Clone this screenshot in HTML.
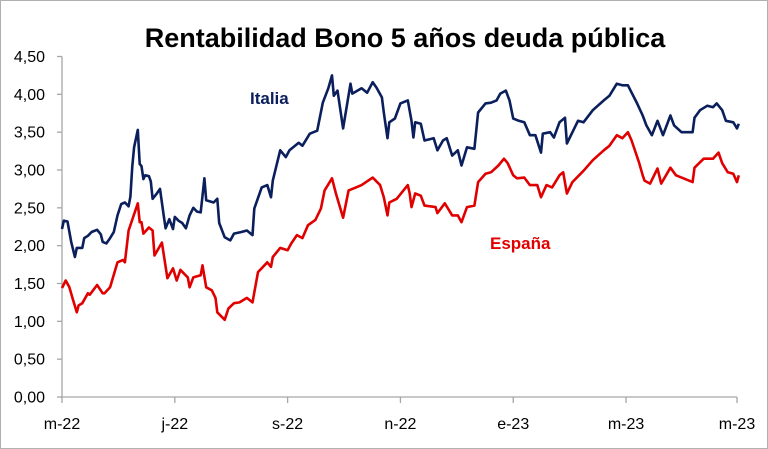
<!DOCTYPE html>
<html><head><meta charset="utf-8"><style>
body{margin:0;background:#fff}
svg{display:block;font-family:"Liberation Sans",sans-serif}
</style></head><body>
<svg width="768" height="449" viewBox="0 0 768 449">
<rect x="0.5" y="0.5" width="767" height="448" fill="#fff" stroke="#b0b0b0"/>
<text x="405" y="47" text-anchor="middle" font-size="27" font-weight="bold" fill="#000">Rentabilidad Bono 5 años deuda pública</text>
<g id="axes"></g>
<g id="series"></g>
<text x="250" y="104" font-size="17" font-weight="bold" fill="#0a1f5c">Italia</text>
<text x="490" y="249" font-size="17" font-weight="bold" fill="#e00000">España</text>
</svg>
<script>
const yTicks=[0,0.5,1,1.5,2,2.5,3,3.5,4,4.5];
const yTickLabels=["0,00","0,50","1,00","1,50","2,00","2,50","3,00","3,50","4,00","4,50"];
const xTickDays=[0,61,122,183,244,305,365];
const xTickLabels=["m-22","j-22","s-22","n-22","e-23","m-23","m-23"];
const italiaDays=[0,1,3,5,7,8,11,12,14,16,19,21,22,24,26,28,30,32,34,36,37,38,39,41,42,43,44,45,47,48,49,51,53,55,56,58,60,61,63,65,67,69,71,73,75,77,78,82,84,85,88,91,93,97,100,103,104,108,111,113,114,118,121,123,128,130,134,138,141,144,146,147,149,152,156,157,162,165,168,170,173,174,176,177,180,183,187,189,190,191,194,196,201,203,206,208,211,214,216,219,223,225,229,232,235,237,240,242,244,247,250,253,256,259,260,264,266,269,272,273,279,282,287,293,296,300,303,306,311,314,316,319,322,325,329,331,335,341,342,345,349,352,354,357,359,363,365,366];
const italiaValues=[2.22,2.33,2.32,2.05,1.85,1.97,1.97,2.10,2.13,2.18,2.21,2.15,2.05,2.03,2.10,2.18,2.40,2.55,2.57,2.52,2.65,3.05,3.30,3.53,3.08,3.05,2.88,2.93,2.92,2.85,2.62,2.68,2.75,2.40,2.23,2.35,2.22,2.38,2.33,2.30,2.23,2.40,2.50,2.45,2.44,2.89,2.60,2.57,2.62,2.30,2.11,2.07,2.16,2.18,2.20,2.14,2.49,2.77,2.80,2.64,2.86,3.26,3.17,3.26,3.36,3.32,3.48,3.52,3.89,4.08,4.25,3.98,4.05,3.55,4.14,4.01,4.08,4.02,4.16,4.09,3.96,3.76,3.42,3.63,3.68,3.88,3.92,3.65,3.43,3.63,3.61,3.39,3.42,3.26,3.39,3.42,3.19,3.26,3.06,3.30,3.28,3.76,3.88,3.89,3.92,4.01,4.05,3.92,3.68,3.65,3.63,3.46,3.46,3.23,3.48,3.50,3.43,3.63,3.69,3.35,3.65,3.63,3.79,3.92,3.98,4.14,4.12,4.12,3.88,3.72,3.59,3.46,3.65,3.46,3.72,3.59,3.50,3.50,3.69,3.79,3.85,3.83,3.88,3.79,3.65,3.63,3.55,3.61];
const espanaDays=[0,2,4,6,8,9,11,14,15,19,22,23,26,30,33,34,36,41,42,43,44,47,49,50,54,57,60,62,64,68,69,71,75,76,78,81,83,84,88,90,93,96,100,103,106,111,113,114,118,122,124,127,130,133,137,140,142,146,148,152,155,159,162,168,172,174,176,177,181,187,188,189,191,194,196,202,203,207,211,214,216,219,223,225,229,232,236,239,241,244,246,250,253,257,259,262,265,269,271,273,276,282,287,293,296,300,303,306,308,312,314,315,318,322,324,329,332,336,341,342,347,352,355,357,360,363,365,366];
const espanaValues=[1.44,1.54,1.45,1.28,1.12,1.21,1.24,1.37,1.35,1.48,1.37,1.37,1.45,1.78,1.81,1.78,2.20,2.56,2.31,2.31,2.16,2.24,2.20,1.87,2.04,1.57,1.70,1.54,1.68,1.58,1.45,1.58,1.61,1.74,1.45,1.41,1.31,1.12,1.02,1.17,1.24,1.25,1.31,1.25,1.65,1.78,1.72,1.85,1.97,1.94,2.03,2.14,2.10,2.27,2.34,2.49,2.73,2.89,2.70,2.37,2.73,2.77,2.80,2.90,2.80,2.64,2.40,2.57,2.62,2.80,2.69,2.51,2.69,2.66,2.53,2.51,2.43,2.56,2.40,2.40,2.31,2.51,2.53,2.84,2.95,2.97,3.06,3.15,3.09,2.93,2.89,2.90,2.80,2.80,2.64,2.80,2.77,2.93,2.97,2.69,2.84,2.99,3.13,3.26,3.32,3.46,3.42,3.50,3.39,3.10,2.93,2.86,2.82,3.02,2.82,3.03,2.93,2.89,2.84,3.03,3.15,3.15,3.23,3.09,2.97,2.95,2.84,2.93];

const X0=62,X1=737,Y0=397,Y1=56.5,DMAX=365,VMAX=4.5;
const xs=d=>X0+(d/DMAX)*(X1-X0);
const ys=v=>Y0-(v/VMAX)*(Y0-Y1);
const NS="http://www.w3.org/2000/svg";
const axes=document.getElementById('axes');
function mk(tag,attrs,parent){const e=document.createElementNS(NS,tag);for(const k in attrs)e.setAttribute(k,attrs[k]);parent.appendChild(e);return e;}
const yAxis=mk('line',{x1:X0,y1:Y0,x2:X0,y2:Y1,stroke:'#a6a6a6','stroke-width':1.3},axes);


const xAxis=mk('line',{x1:X0,y1:Y0,x2:X1,y2:Y0,stroke:'#a6a6a6','stroke-width':1.3},axes);


yTicks.forEach((v,i)=>{
  const t=mk('line',{x1:X0-5,y1:ys(v),x2:X0,y2:ys(v),stroke:'#a6a6a6','stroke-width':1.3},axes);
  
  
  const l=mk('text',{x:45,y:ys(v)+5.5,'text-anchor':'end','font-size':16,fill:'#000'},axes);
  l.textContent=yTickLabels[i];
  
  
});
xTickDays.forEach((d,i)=>{
  const t=mk('line',{x1:xs(d),y1:Y0,x2:xs(d),y2:Y0+6,stroke:'#a6a6a6','stroke-width':1.3},axes);
  
  
  const l=mk('text',{x:xs(d),y:429,'text-anchor':'middle','font-size':16,fill:'#000'},axes);
  l.textContent=xTickLabels[i];
  
  
});
const series=document.getElementById('series');
function line(days,vals,color,name){
  const d=days.map((dd,i)=>(i?'L':'M')+xs(dd).toFixed(1)+' '+ys(vals[i]).toFixed(1)).join(' ');
  const p=mk('path',{d:d,fill:'none',stroke:color,'stroke-width':2.6,'stroke-linejoin':'round'},series);
  
  
}
line(italiaDays,italiaValues,'#0a1f5c','italia-line');
line(espanaDays,espanaValues,'#e00000','espana-line');
</script>
</body></html>
